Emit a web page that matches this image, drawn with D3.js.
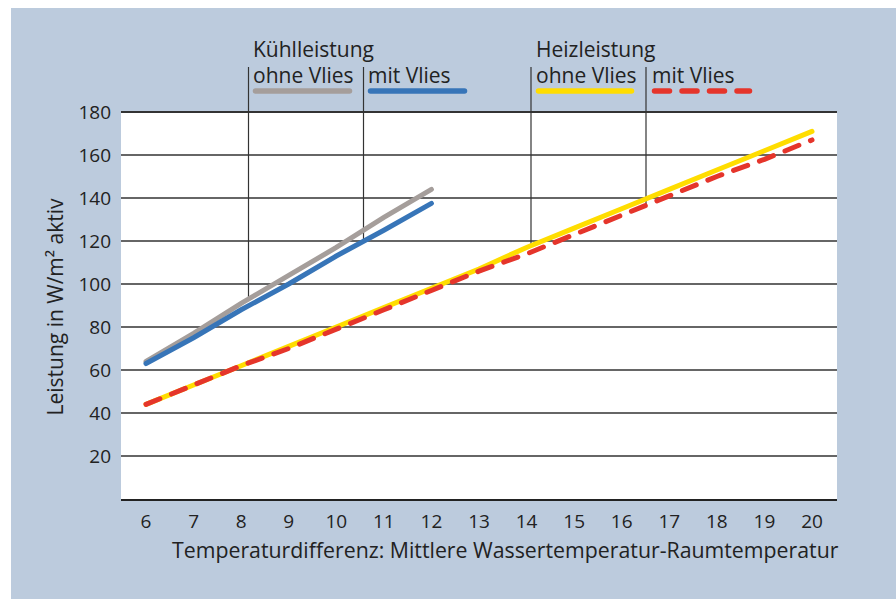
<!DOCTYPE html>
<html>
<head>
<meta charset="utf-8">
<script src="https://cdn.jsdelivr.net/npm/d3@7"></script>
<style>
  body { margin: 0; background: #fff; }
  text { font-family: "Open Sans", sans-serif; fill: #222; }
</style>
</head>
<body>
<svg id="chart" width="896" height="599"></svg>
<script>
// x values (Temperaturdifferenz)
const coolX = [6, 7, 8, 9, 10, 11, 12];
const heatX = [6, 7, 8, 9, 10, 11, 12, 13, 14, 15, 16, 17, 18, 19, 20];
// Kühlleistung
const coolOhne = [64, 77, 91, 104, 117, 131, 144];
const coolMit = [63, 75, 88, 100, 113, 125, 137.5];
// Heizleistung
const heatOhne = [44, 53, 62, 71, 80, 89, 98, 107, 117, 126, 135, 144, 153, 162, 171];
const heatMit = [44, 53, 62, 70, 79, 88, 97, 106, 114, 123, 132, 141, 150, 158, 167];

const xTicks = [6, 7, 8, 9, 10, 11, 12, 13, 14, 15, 16, 17, 18, 19, 20];
const yTicks = [20, 40, 60, 80, 100, 120, 140, 160, 180];

const svg = d3.select("#chart");

// background panel
svg.append("rect")
    .attr("x", 11).attr("y", 8)
    .attr("width", 896 - 11).attr("height", 599 - 8)
    .attr("fill", "#bccbdd");

const x = d3.scaleLinear().domain([6, 20]).range([146, 812]);
const y = d3.scaleLinear().domain([0, 180]).range([499, 112]);
const left = 121, right = 837;

// plot area
svg.append("rect")
    .attr("x", left).attr("y", y(180))
    .attr("width", right - left).attr("height", y(0) - y(180))
    .attr("fill", "#fff");

// grid lines
svg.append("g").selectAll("line")
    .data(yTicks)
    .enter().append("line")
    .attr("x1", left).attr("x2", right)
    .attr("y1", d => y(d)).attr("y2", d => y(d))
    .attr("stroke", "#333")
    .attr("stroke-width", d => d === 180 ? 2 : 1.5);

// x axis line
svg.append("line")
    .attr("x1", left).attr("x2", right)
    .attr("y1", y(0) + 1).attr("y2", y(0) + 1)
    .attr("stroke", "#222").attr("stroke-width", 2);

// y tick labels
svg.append("g").selectAll("text")
    .data(yTicks)
    .enter().append("text")
    .attr("x", 111)
    .attr("y", d => y(d) + 7)
    .attr("text-anchor", "end")
    .style("font-size", "19px")
    .text(d => d);

// x tick labels
svg.append("g").selectAll("text")
    .data(xTicks)
    .enter().append("text")
    .attr("x", d => x(d))
    .attr("y", 528)
    .attr("text-anchor", "middle")
    .style("font-size", "19px")
    .text(d => d);

// axis titles
svg.append("text")
    .attr("x", 172).attr("y", 558)
    .style("font-size", "21.3px")
    .text("Temperaturdifferenz: Mittlere Wassertemperatur-Raumtemperatur");

svg.append("text")
    .attr("transform", "translate(63," + 307 + ") rotate(-90)")
    .attr("text-anchor", "middle")
    .style("font-size", "21px")
    .text("Leistung in W/m² aktiv");

// legend separators (end at the data lines)
const line = d3.line().x(d => x(d[0])).y(d => y(d[1]));
const interp = (xs, ys, v) => {
    for (let i = 1; i < xs.length; i++) {
        if (v <= xs[i]) {
            const t = (v - xs[i - 1]) / (xs[i] - xs[i - 1]);
            return ys[i - 1] + t * (ys[i] - ys[i - 1]);
        }
    }
    return ys[ys.length - 1];
};
const seps = [
    { px: 248.5, xs: coolX, ys: coolOhne },
    { px: 363.5, xs: coolX, ys: coolMit },
    { px: 531, xs: heatX, ys: heatOhne },
    { px: 646, xs: heatX, ys: heatMit }
];
svg.append("g").selectAll("line")
    .data(seps)
    .enter().append("line")
    .attr("x1", d => d.px).attr("x2", d => d.px)
    .attr("y1", 67)
    .attr("y2", d => y(interp(d.xs, d.ys, x.invert(d.px))))
    .attr("stroke", "#333").attr("stroke-width", 1.2);

// data lines
const series = [
    { xs: coolX, ys: coolOhne, color: "#a59e9b", dash: null },
    { xs: coolX, ys: coolMit, color: "#3775b8", dash: null },
    { xs: heatX, ys: heatOhne, color: "#ffdd00", dash: null },
    { xs: heatX, ys: heatMit, color: "#e5352b", dash: "15,12.5" }
];
series.forEach(s => {
    svg.append("path")
        .datum(s.xs.map((v, i) => [v, s.ys[i]]))
        .attr("d", line)
        .attr("fill", "none")
        .attr("stroke", s.color)
        .attr("stroke-width", 5)
        .attr("stroke-linecap", "round")
        .attr("stroke-dasharray", s.dash);
});

// legend
svg.append("text").attr("x", 253).attr("y", 57).style("font-size", "21px").text("Kühlleistung");
svg.append("text").attr("x", 536).attr("y", 57).style("font-size", "21px").text("Heizleistung");
const legend = [
    { label: "ohne Vlies", x0: 253, x1: 352, color: "#a59e9b", dash: null },
    { label: "mit Vlies", x0: 368, x1: 467, color: "#3775b8", dash: null },
    { label: "ohne Vlies", x0: 536, x1: 634, color: "#ffdd00", dash: null },
    { label: "mit Vlies", x0: 652, x1: 752, color: "#e5352b", dash: "15,12.5" }
];
legend.forEach(l => {
    svg.append("text").attr("x", l.x0).attr("y", 83).style("font-size", "21px").text(l.label);
    svg.append("line")
        .attr("x1", l.x0 + 2.5).attr("x2", l.x1 - 2.5)
        .attr("y1", 91).attr("y2", 91)
        .attr("stroke", l.color)
        .attr("stroke-width", 5.5)
        .attr("stroke-linecap", "round")
        .attr("stroke-dasharray", l.dash);
});
</script>
</body>
</html>
